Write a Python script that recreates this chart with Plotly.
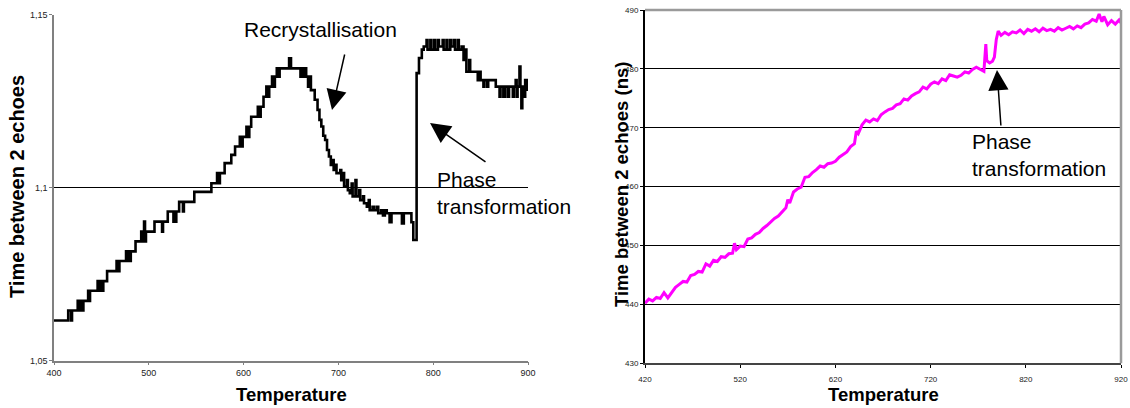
import plotly.graph_objects as go

# ---------------- Left chart data ----------------
temp_left = [
    400, 415, 418, 419, 425, 427, 428, 430, 431, 436,
    437, 438, 446, 448, 449, 451, 452, 456, 466, 468,
    469, 476, 478, 479, 480, 481, 486, 492, 493, 494,
    495, 496, 497, 506, 514, 515, 520, 526, 527, 528,
    529, 532, 536, 537, 548, 566, 572, 574, 575, 580,
    587, 591, 596, 598, 599, 603, 605, 606, 608, 615,
    617, 618, 621, 624, 626, 627, 630, 632, 633, 635,
    637, 638, 648, 650, 660, 661, 663, 664, 666, 668,
    670, 671, 675, 678, 680, 682, 684, 686, 688, 690,
    692, 694, 695, 697, 698, 702, 703, 705, 706, 709,
    710, 712, 714, 715, 718, 719, 722, 723, 726, 727,
    730, 732, 733, 736, 738, 741, 742, 745, 747, 749,
    751, 754, 756, 767, 769, 777, 779, 782.5, 785, 788,
    790, 793, 794, 797, 798, 801, 802, 805, 806, 810,
    811, 814, 815, 818, 819, 822, 823, 826, 827, 830,
    832, 834, 835, 838, 839, 847, 849, 850, 853, 854,
    857, 858, 866, 870, 871, 874, 876, 879, 880, 884,
    885, 887, 888, 889, 891, 892, 893, 894, 896, 897,
    899, 900,
]
echo_left = [
    1.0616, 1.0645, 1.0616, 1.0645, 1.0673, 1.0645, 1.0673, 1.0645, 1.0673, 1.0702,
    1.0673, 1.0702, 1.0730, 1.0702, 1.0730, 1.0702, 1.0730, 1.0759, 1.0788, 1.0759,
    1.0788, 1.0816, 1.0788, 1.0816, 1.0788, 1.0816, 1.0845, 1.0873, 1.0845, 1.0873,
    1.0902, 1.0845, 1.0873, 1.0902, 1.0873, 1.0902, 1.0931, 1.0902, 1.0931, 1.0902,
    1.0931, 1.0959, 1.0931, 1.0959, 1.0988, 1.1013, 1.1042, 1.1013, 1.1042, 1.1071,
    1.1095, 1.1119, 1.1147, 1.1119, 1.1147, 1.1176, 1.1147, 1.1176, 1.1205, 1.1234,
    1.1205, 1.1234, 1.1263, 1.1292, 1.1263, 1.1292, 1.1321, 1.1292, 1.1321, 1.1345,
    1.1321, 1.1345, 1.1374, 1.1345, 1.1321, 1.1345, 1.1321, 1.1345, 1.1321, 1.1292,
    1.1321, 1.1282, 1.1254, 1.1225, 1.1196, 1.1177, 1.1150, 1.1138, 1.1109, 1.1090,
    1.1066, 1.1080, 1.1051, 1.1066, 1.1042, 1.1051, 1.1022, 1.1042, 1.1003, 1.1022,
    1.0993, 1.0984, 1.1012, 1.0975, 1.1022, 1.0975, 1.0993, 1.0964, 1.0975, 1.0955,
    1.0945, 1.0964, 1.0935, 1.0945, 1.0935, 1.0945, 1.0926, 1.0935, 1.0920, 1.0935,
    1.0926, 1.0900, 1.0926, 1.0897, 1.0926, 1.0900, 1.0849, 1.1331, 1.1375, 1.1399,
    1.1408, 1.1427, 1.1399, 1.1427, 1.1399, 1.1427, 1.1399, 1.1427, 1.1408, 1.1427,
    1.1399, 1.1427, 1.1399, 1.1427, 1.1408, 1.1427, 1.1399, 1.1427, 1.1399, 1.1408,
    1.1369, 1.1399, 1.1335, 1.1369, 1.1335, 1.1311, 1.1335, 1.1311, 1.1292, 1.1311,
    1.1292, 1.1311, 1.1292, 1.1263, 1.1292, 1.1263, 1.1292, 1.1263, 1.1292, 1.1263,
    1.1292, 1.1311, 1.1263, 1.1292, 1.1350, 1.1292, 1.1230, 1.1292, 1.1263, 1.1311,
    1.1283, 1.1283,
]
left_ytick_vals = [1.05, 1.1, 1.15]
left_ytick_text = ["1,05", "1,1", "1,15"]
left_xtick_vals = [400, 500, 600, 700, 800, 900]

# ---------------- Right chart data ----------------
temp_right = [
    420, 424, 428, 432, 436, 440, 444, 448, 452, 456,
    460, 464, 468, 472, 476, 480, 484, 488, 492, 496,
    500, 504, 508, 512, 514, 516, 520, 524, 528, 532,
    536, 540, 544, 548, 552, 556, 560, 564, 568, 570,
    572, 576, 580, 584, 588, 592, 596, 600, 604, 608,
    612, 616, 620, 624, 628, 632, 636, 640, 642, 644,
    648, 652, 656, 660, 664, 668, 672, 676, 680, 684,
    688, 692, 696, 700, 704, 708, 712, 716, 720, 724,
    728, 732, 736, 740, 744, 748, 752, 756, 760, 764,
    768, 772, 776, 778, 779, 782, 785, 787, 789, 791,
    794, 798, 802, 806, 810, 814, 818, 822, 826, 830,
    834, 838, 842, 846, 850, 854, 858, 862, 866, 870,
    874, 878, 882, 886, 890, 894, 897, 900, 902, 906,
    910, 914, 918, 920,
]
echo_right = [
    440.2, 440.9, 440.6, 441.2, 441.0, 442.0, 441.1, 441.9, 442.9, 443.4,
    443.9, 443.8, 444.9, 445.1, 445.6, 445.5, 446.9, 446.5, 447.5, 447.3,
    448.1, 448.0, 448.6, 448.7, 450.4, 449.3, 449.9, 449.8, 451.1, 451.3,
    451.9, 452.2, 452.9, 453.4, 454.0, 454.6, 455.0, 455.8, 456.4, 457.8,
    457.2, 459.1, 459.6, 459.9, 461.6, 461.7, 462.4, 462.9, 463.5, 463.3,
    463.9, 464.0, 464.3, 465.0, 465.4, 465.9, 466.8, 467.3, 469.4, 469.0,
    470.5, 471.3, 471.0, 471.5, 471.2, 472.2, 472.7, 473.1, 473.3, 473.9,
    474.1, 474.9, 474.7, 475.4, 475.8, 476.1, 476.9, 476.6, 477.4, 477.8,
    477.5, 478.3, 478.0, 479.0, 478.8, 478.6, 478.9, 479.5, 479.3, 479.9,
    480.3, 479.9, 479.6, 484.2, 481.4, 481.0, 481.3, 482.0, 485.0, 486.4,
    485.7, 486.2, 485.8, 486.3, 486.1, 486.6, 486.0, 486.7, 486.4, 486.8,
    486.3, 486.9, 486.5, 486.7, 486.4, 487.0, 486.6, 486.9, 487.2, 486.8,
    487.3, 487.0, 487.6, 487.8, 488.4, 488.1, 489.3, 488.0, 488.9, 487.5,
    488.2, 487.6, 488.3, 487.8,
]
right_ytick_vals = [430, 440, 450, 460, 470, 480, 490]
right_xtick_vals = [420, 520, 620, 720, 820, 920]

FONT = "Liberation Sans, Arial, sans-serif"

fig = go.Figure()
fig.add_trace(go.Scatter(
    x=temp_left, y=echo_left, mode="lines", line_shape="hv",
    line=dict(color="black", width=2.6), xaxis="x", yaxis="y",
    showlegend=False, hoverinfo="skip"))
fig.add_trace(go.Scatter(
    x=temp_right, y=echo_right, mode="lines",
    line=dict(color="#FF00FF", width=3), xaxis="x2", yaxis="y2",
    showlegend=False, hoverinfo="skip"))

fig.update_layout(
    width=1130, height=408,
    margin=dict(l=0, r=0, t=0, b=0, pad=0),
    paper_bgcolor="white", plot_bgcolor="white",
    font=dict(family=FONT, color="black"),
    xaxis=dict(
        domain=[0.04779, 0.46726], anchor="y", range=[400, 900],
        tickvals=left_xtick_vals, ticks="outside", ticklen=3,
        tickcolor="#808080", showline=True, linecolor="#808080",
        linewidth=1.5, showgrid=False, zeroline=False, automargin=False,
        tickfont=dict(size=9, family=FONT, color="#222")),
    yaxis=dict(
        domain=[0.11593, 0.96397], anchor="x", range=[1.05, 1.15],
        tickvals=left_ytick_vals, ticktext=left_ytick_text,
        ticks="outside", ticklen=3, tickcolor="#808080",
        showline=True, linecolor="#808080", linewidth=1.5,
        showgrid=True, gridcolor="black", gridwidth=1, zeroline=False,
        automargin=False,
        tickfont=dict(size=9, family=FONT, color="#222")),
    xaxis2=dict(
        domain=[0.57080, 0.99204], anchor="y2", range=[420, 920],
        tickvals=right_xtick_vals, ticks="outside", ticklen=3,
        tickcolor="black", showline=True, linecolor="#444",
        linewidth=2, showgrid=False, zeroline=False, automargin=False,
        ticklabelstandoff=4,
        tickfont=dict(size=8, family=FONT, color="#222")),
    yaxis2=dict(
        domain=[0.10956, 0.97549], anchor="x2", range=[430, 490],
        tickvals=right_ytick_vals, ticks="outside", ticklen=3,
        tickcolor="black", showline=True, linecolor="black",
        linewidth=2, showgrid=True, gridcolor="black", gridwidth=1,
        zeroline=False, automargin=False,
        tickfont=dict(size=8, family=FONT, color="#222")),
)

# Right chart frame (top / right borders in grey)
fig.add_shape(type="line", xref="x2 domain", yref="y2 domain",
              x0=0, x1=1, y0=1, y1=1, line=dict(color="#9a9a9a", width=2.5))
fig.add_shape(type="line", xref="x2 domain", yref="y2 domain",
              x0=1, x1=1, y0=0, y1=1, line=dict(color="#9a9a9a", width=2.5))

annotations = [
    # axis titles
    dict(text="<b>Time between 2 echoes</b>", x=17/1130, y=1-187/408,
         textangle=-90, font=dict(size=20, family=FONT)),
    dict(text="<b>Temperature</b>", x=291/1130, y=1-394/408,
         font=dict(size=18.5, family=FONT)),
    dict(text="<b>Time between 2 echoes (ns)</b>", x=622/1130, y=1-185/408,
         textangle=-90, font=dict(size=18.5, family=FONT)),
    dict(text="<b>Temperature</b>", x=883/1130, y=1-394/408,
         font=dict(size=18.5, family=FONT)),
    # labels
    dict(text="Recrystallisation", x=320/1130, y=1-30/408,
         font=dict(size=21, family=FONT)),
]
for a in annotations:
    a.update(xref="paper", yref="paper", showarrow=False,
             xanchor="center", yanchor="middle")
    fig.add_annotation(**a)

phase_labels = [(435, 193), (970, 155)]
for px, py in phase_labels:
    fig.add_annotation(
        text="Phase<br>transformation", xref="paper", yref="paper",
        x=px/1130, y=1-py/408, xanchor="left", yanchor="middle",
        align="left", showarrow=False, font=dict(size=21, family=FONT))

arrows = [
    (332, 110, 13, -57),
    (430, 123, 57, 40),
    (997, 70, 4, 57),
]
for tx, ty, ax, ay in arrows:
    fig.add_annotation(
        text="", xref="paper", yref="paper", x=tx/1130, y=1-ty/408,
        ax=ax, ay=ay, showarrow=True, arrowhead=2, arrowsize=2.7,
        arrowwidth=1.5, arrowcolor="black", standoff=0)

fig.write_html(
    "out.html",
    config={"displayModeBar": False},
    post_script="document.body.style.margin='0';document.body.style.overflow='hidden';",
)
